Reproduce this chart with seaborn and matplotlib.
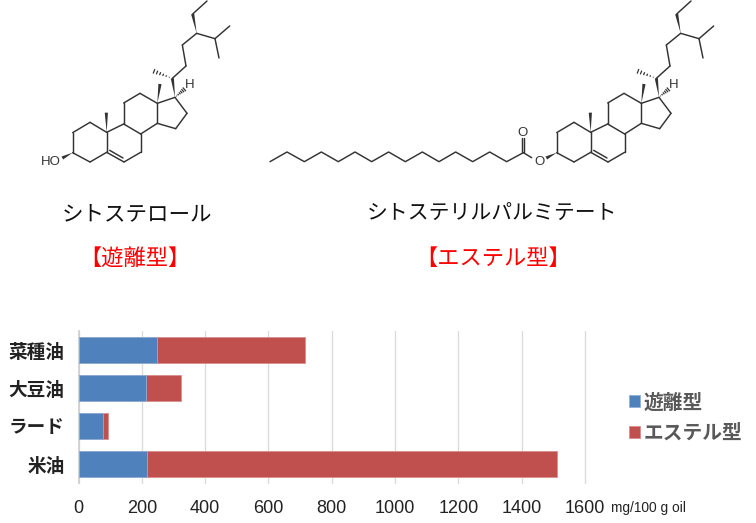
#!/usr/bin/env python3

import pandas as pd
import seaborn as sns
import matplotlib.pyplot as plt
from matplotlib.patches import Polygon

oils = ["菜種油", "大豆油", "ラード", "米油"]
free_form = [248, 212, 77, 216]
ester_form = [466, 112, 15, 1297]
x_ticks = [0, 200, 400, 600, 800, 1000, 1200, 1400, 1600]

free_label = "遊離型"
ester_label = "エステル型"
unit_label = "mg/100 g oil"
sterol_name = "シトステロール"
ester_name = "シトステリルパルミテート"
free_tag = "【遊離型】"
ester_tag = "【エステル型】"

# sterol skeleton, atom positions (3x pixels)
atoms = {
	"c1": (270, 367), "c2": (218, 398), "c3": (218, 458), "c4": (270, 486),
	"c5": (320, 457), "c6": (372, 486), "c7": (422, 457), "c8": (422, 402),
	"c9": (371, 372), "c10": (320, 397), "c11": (371, 309), "c12": (420, 280),
	"c13": (472, 310), "c14": (472, 370), "c15": (527, 386), "c16": (561, 340),
	"c17": (525, 292), "c20": (517, 235), "c22": (558, 198), "c23": (547, 135),
	"c24": (590, 100), "c28": (578, 42), "c29": (621, 3), "c25": (645, 116),
	"c26": (689, 78), "c27": (657, 174), "c18": (480, 252), "c19": (319, 338),
	"c21": (462, 214), "h17": (553, 268),
}
bonds = [
	("c1", "c2"), ("c2", "c3"), ("c3", "c4"), ("c4", "c5"), ("c5", "c10"), ("c10", "c1"),
	("c5", "c6"), ("c6", "c7"), ("c7", "c8"), ("c8", "c9"), ("c9", "c10"),
	("c9", "c11"), ("c11", "c12"), ("c12", "c13"), ("c13", "c14"), ("c14", "c8"),
	("c14", "c15"), ("c15", "c16"), ("c16", "c17"), ("c17", "c13"),
	("c22", "c23"), ("c20", "c22"), ("c23", "c24"), ("c28", "c29"),
	("c24", "c25"), ("c25", "c26"), ("c25", "c27"),
]
wedges = [("c10", "c19"), ("c13", "c18"), ("c17", "c20"), ("c24", "c28")]
hashes = [("c20", "c21"), ("c17", "h17")]
chain_x = [30, 81, 133, 184, 235, 285, 335, 386, 436, 487, 537, 587, 638, 689, 740, 790]
chain_y = [485, 456, 485, 456, 485, 456, 485, 456, 485, 456, 485, 456, 485, 456, 485, 458]

INK = "#333333"


def wedge(ax, a, b, width=2.6, color=INK):
	dx, dy = b[0] - a[0], b[1] - a[1]
	n = (dx * dx + dy * dy) ** 0.5
	nx, ny = -dy / n * width, dx / n * width
	ax.add_patch(Polygon([a, (b[0] + nx, b[1] + ny), (b[0] - nx, b[1] - ny)], closed=True, fc=color, ec="none"))


def hashed(ax, a, b, steps=6, width=2.4):
	dx, dy = b[0] - a[0], b[1] - a[1]
	n = (dx * dx + dy * dy) ** 0.5
	nx, ny = -dy / n, dx / n
	for i in range(1, steps + 1):
		t = i / steps
		w = width * t
		px, py = a[0] + dx * t, a[1] + dy * t
		ax.plot([px - nx * w, px + nx * w], [py - ny * w, py + ny * w], color=INK, lw=0.9, solid_capstyle="butt")


def draw_sterol(ax, ox):
	pts = {k: (v[0] / 3 + ox, v[1] / 3) for k, v in atoms.items()}
	for a, b in bonds:
		ax.plot([pts[a][0], pts[b][0]], [pts[a][1], pts[b][1]], color=INK, lw=1.05, solid_capstyle="round")
	# ring double bond
	ax.plot([329 / 3 + ox, 369 / 3 + ox], [451 / 3, 474 / 3], color=INK, lw=1.05)
	for a, b in wedges:
		wedge(ax, pts[a], pts[b], 1.6)
	for a, b in hashes:
		hashed(ax, pts[a], pts[b])
	ax.text(568 / 3 + ox, 256 / 3, "H", ha="center", va="center", fontsize=9.5, color=INK, family="Liberation Sans")
	wedge(ax, (218 / 3 + ox, 458 / 3), (187 / 3 + ox, 474 / 3), 1.7)


sns.set_theme(style="white")
plt.rcParams["font.family"] = ["Noto Sans CJK JP", "DejaVu Sans"]

fig = plt.figure(figsize=(7.56, 5.23), dpi=100)

# bar chart
ax = fig.add_axes([78.5 / 756, 1 - 483 / 523, (585 - 78.5) / 756, 152 / 523])
df = pd.DataFrame({"oil": oils, "free": free_form, "ester": ester_form})
df["total"] = df["free"] + df["ester"]

sns.barplot(data=df, y="oil", x="total", color="#C0504D", saturation=1, width=0.66,
	edgecolor="#D98F8C", linewidth=0.6, label=ester_label, ax=ax, zorder=3)
sns.barplot(data=df, y="oil", x="free", color="#4F81BD", saturation=1, width=0.66,
	edgecolor="#8FB0D8", linewidth=0.6, label=free_label, ax=ax, zorder=3)

ax.set_xlim(0, 1600)
ax.set_xticks(x_ticks)
ax.set_xlabel("")
ax.set_ylabel("")
ax.xaxis.grid(True, color="#DCDCDC", lw=1)
for g in ax.get_xgridlines():
	g.set_clip_on(False)
ax.set_axisbelow(True)
sns.despine(ax=ax, top=True, right=True, bottom=True, left=False)
ax.spines["left"].set_color("#D0D0D0")
ax.tick_params(axis="both", length=0)
ax.tick_params(axis="x", pad=12)
ax.tick_params(axis="y", pad=10)
for t in ax.get_xticklabels():
	t.set_family("Liberation Sans")
	t.set_fontsize(13)
	t.set_color("#222222")
for t in ax.get_yticklabels():
	t.set_fontsize(13.4)
	t.set_fontweight("bold")
	t.set_color("#222222")

handles, labels = ax.get_legend_handles_labels()
leg = ax.legend(handles[::-1], labels[::-1], loc="center left", bbox_to_anchor=(629 / 756, 1 - 418 / 523),
	bbox_transform=fig.transFigure, frameon=False, handlelength=0.55, handleheight=0.55,
	handletextpad=0.2, labelspacing=0.58, borderpad=0, borderaxespad=0,
	prop={"size": 14.2, "weight": "bold"}, labelcolor="#595959")

# molecules and captions drawn in pixel space
ov = fig.add_axes([0, 0, 1, 1], zorder=-1)
ov.set_xlim(0, 756)
ov.set_ylim(523, 0)
ov.axis("off")

draw_sterol(ov, 0)
draw_sterol(ov, 484)
ov.text(152 / 3, 487 / 3, "HO", ha="center", va="center", fontsize=9.5, color=INK, family="Liberation Sans")

ov.plot([260 + v / 3 for v in chain_x], [v / 3 for v in chain_y], color=INK, lw=1.05, solid_joinstyle="round")
ov.plot([260 + 790 / 3, 260 + 815 / 3], [458 / 3, 473 / 3], color=INK, lw=1.05)
ov.plot([260 + 785 / 3, 260 + 785 / 3], [457 / 3, 414 / 3], color=INK, lw=1.05)
ov.plot([260 + 792 / 3, 260 + 792 / 3], [457 / 3, 414 / 3], color=INK, lw=1.05)
ov.text(260 + 788 / 3, 398 / 3, "O", ha="center", va="center", fontsize=9.5, color=INK, family="Liberation Sans")
ov.text(539.5, 162, "O", ha="center", va="center", fontsize=9.5, color=INK, family="Liberation Sans")

ov.text(136.5, 214, sterol_name, ha="center", va="center", fontsize=15.5, color="#111111")
ov.text(492.5, 214, ester_name, ha="center", va="center", fontsize=15, color="#111111")
ov.text(135, 258, free_tag, ha="center", va="center", fontsize=16, color="#FF0000")
ov.text(493, 258, ester_tag, ha="center", va="center", fontsize=16, color="#FF0000")
ov.text(611, 508, unit_label, ha="left", va="center", fontsize=9.9, color="#222222", family="Liberation Sans")

fig.savefig("out.png", dpi=100)
